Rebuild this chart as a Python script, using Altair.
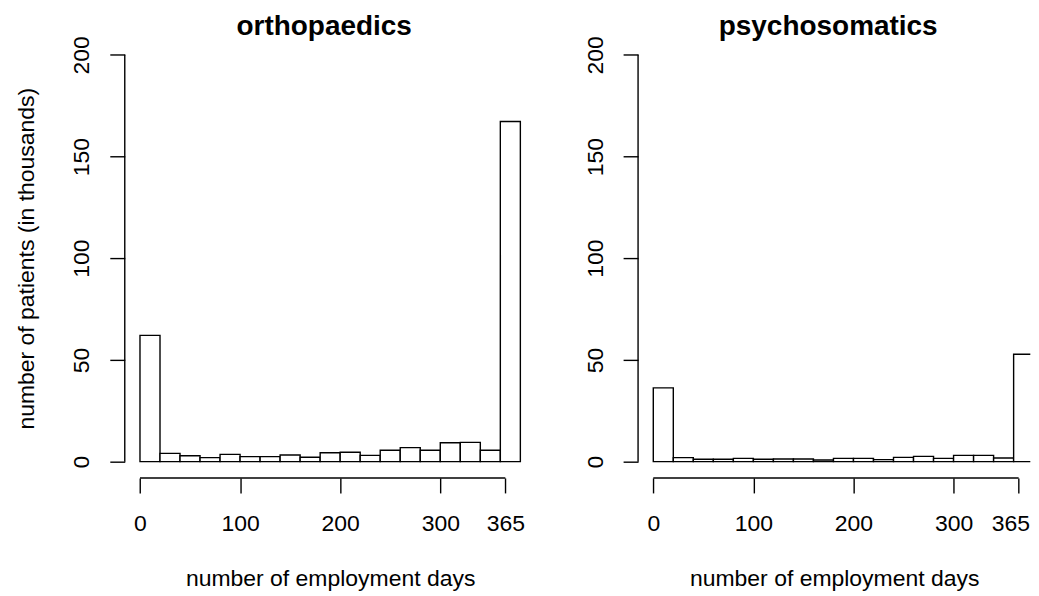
import altair as alt
import pandas as pd

# ---- data (counts in thousands, bins of 20 days) ----
bin_start = list(range(0, 380, 20))
bin_end = [s + 20 for s in bin_start]
ortho = [62.1, 4.1, 2.9, 2.0, 3.6, 2.5, 2.5, 3.3, 2.2, 4.4, 4.6, 3.1, 5.6, 6.9, 5.6, 9.3, 9.5, 5.6, 167.2]
psycho = [36.3, 2.0, 1.2, 1.2, 1.6, 1.2, 1.3, 1.3, 0.8, 1.6, 1.6, 1.0, 2.1, 2.6, 1.6, 3.1, 3.1, 1.8, 52.8]
titles = ["orthopaedics", "psychosomatics"]
y_ticks = [0, 50, 100, 150, 200]
x_ticks = [0, 100, 200, 300, 365]
x_title = "number of employment days"
y_title = "number of patients (in thousands)"

FONT = "Liberation Sans"
H = 440.3
LW = 1.4
YDOM = [-8, 208]
# left panel shows the full R plot region; the right one is cut by the page edge
PANELS = [
    dict(width=411.6, xdom=[-15.2, 395.2], flush=False),
    dict(width=393.0, xdom=[-15.2, 376.66], flush=True),
]


def panel(values, title, ytitle, cfg):
    df = pd.DataFrame({"start": bin_start, "end": bin_end, "count": values})
    xscale = alt.Scale(domain=cfg["xdom"], nice=False, zero=False)
    yscale = alt.Scale(domain=YDOM, nice=False, zero=False)

    xkw = dict(values=x_ticks, domain=False, grid=False, tickSize=15,
               tickColor="black", tickWidth=LW, labelFont=FONT, labelFontSize=23,
               labelColor="black", labelPadding=20, labelBaseline="top",
               labelAngle=0, labelOverlap=False, format="d",
               title=x_title, titleFont=FONT, titleFontSize=23,
               titleFontWeight="normal", titleColor="black", titleY=108,
               titleBaseline="alphabetic")
    if cfg["flush"]:
        xkw.update(labelFlush=13, labelFlushOffset=11)
    xaxis = alt.Axis(**xkw)
    ykw = dict(values=y_ticks, domain=False, grid=False, tickSize=15,
               tickColor="black", tickWidth=LW, labelFont=FONT, labelFontSize=23,
               labelColor="black", labelPadding=21, labelAngle=270,
               labelAlign="center", labelBaseline="alphabetic", labelOverlap=False,
               format="d")
    if ytitle:
        ykw.update(title=ytitle, titleFont=FONT, titleFontSize=23,
                   titleFontWeight="normal", titleColor="black", titleAngle=270,
                   titleX=-91, titleY=H / 2, titleAlign="center",
                   titleBaseline="alphabetic")
    else:
        ykw.update(title="")
    yaxis = alt.Axis(**ykw)

    bars = alt.Chart(df).mark_rect(fill="white", stroke="black", strokeWidth=LW,
                                   clip=True).encode(
        x=alt.X("start:Q", scale=xscale, axis=xaxis),
        x2="end:Q",
        y=alt.Y("count:Q", scale=yscale, axis=yaxis),
        y2=alt.datum(0),
    )
    ydf = pd.DataFrame({"lo": [y_ticks[0]], "hi": [y_ticks[-1]]})
    yline = alt.Chart(ydf).mark_rule(color="black", strokeWidth=LW).encode(
        x=alt.value(0),
        y=alt.Y("lo:Q", scale=yscale, axis=yaxis),
        y2="hi:Q",
    )
    xdf = pd.DataFrame({"lo": [x_ticks[0]], "hi": [x_ticks[-1]]})
    xline = alt.Chart(xdf).mark_rule(color="black", strokeWidth=LW).encode(
        y=alt.value(H),
        x=alt.X("lo:Q", scale=xscale, axis=xaxis),
        x2="hi:Q",
    )
    return alt.layer(bars, yline, xline).properties(
        width=cfg["width"], height=H,
        title=alt.TitleParams(title, font=FONT, fontSize=28, fontWeight="bold",
                              color="black", anchor="middle", offset=-5, dx=-6,
                              baseline="top"),
    )


chart = alt.hconcat(
    panel(ortho, titles[0], y_title, PANELS[0]),
    panel(psycho, titles[1], "", PANELS[1]),
    spacing=102.3,
    bounds="flush",
).configure_view(stroke=None).properties(
    padding={"left": 7, "top": 4, "right": 0, "bottom": 0},
    background="white",
)

chart.save("out.html", embed_options={"renderer": "svg", "actions": False})
